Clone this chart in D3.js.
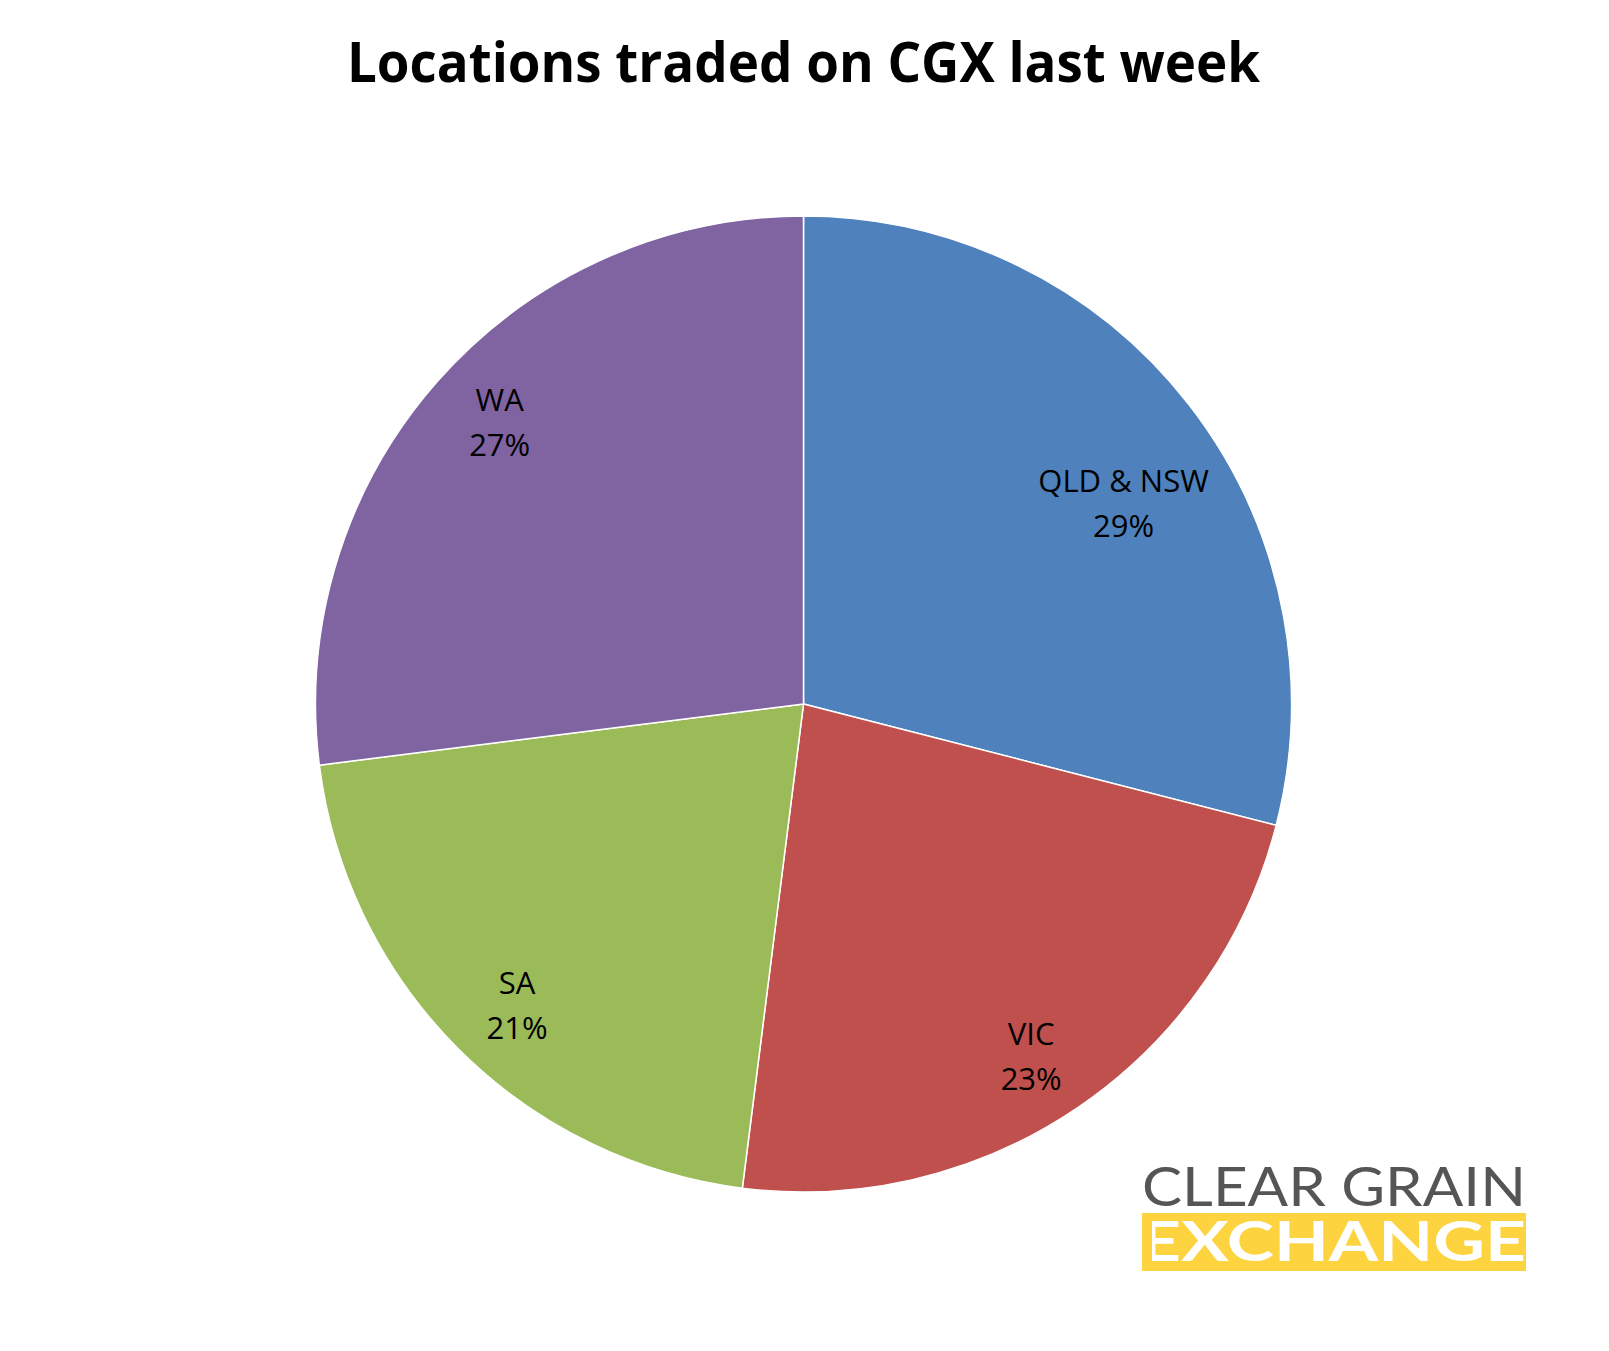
<!DOCTYPE html>
<html>
<head>
<meta charset="utf-8">
<script src="https://cdn.jsdelivr.net/npm/d3@7"></script>
<style>
  body { margin: 0; background: #fff; }
  svg { display: block; }
</style>
</head>
<body>
<div id="chart"></div>
<script>
var regions = ["QLD & NSW", "VIC", "SA", "WA"];
var shares = [29, 23, 21, 27];
var colours = ["#4F81BD", "#C0504D", "#9BBB59", "#8064A2"];
var chartTitle = "Locations traded on CGX last week";

var width = 1609, height = 1351;
var cx = 803.5, cy = 704, radius = 488;

var svg = d3.select("#chart").append("svg")
    .attr("width", width)
    .attr("height", height);

// Title
svg.append("text")
    .attr("x", cx)
    .attr("y", 82)
    .attr("text-anchor", "middle")
    .attr("font-family", "'Open Sans', 'Noto Sans', sans-serif")
    .attr("font-weight", "bold")
    .attr("font-size", 56)
    .attr("textLength", 913)
    .attr("lengthAdjust", "spacingAndGlyphs")
    .text(chartTitle);

var data = regions.map(function(r, i) {
  return {name: r, value: shares[i], colour: colours[i]};
});

var pie = d3.pie()
    .sort(null)
    .value(function(d) { return d.value; });

var arc = d3.arc()
    .innerRadius(0)
    .outerRadius(radius);

var g = svg.append("g")
    .attr("transform", "translate(" + cx + "," + cy + ")");

var arcs = pie(data);

g.selectAll("path.slice")
    .data(arcs)
  .enter().append("path")
    .attr("class", "slice")
    .attr("d", arc)
    .attr("fill", function(d) { return d.data.colour; })
    .attr("stroke", "#fff")
    .attr("stroke-width", 1.5);

// Labels: placed on the slice's mid angle (Excel-ish inside-end spot),
// then slid toward the horizontal axis until the box is inside the pie
var labelFont = "'Open Sans', 'Noto Sans', sans-serif";
var labelSize = 31, lineGap = 45;
var capH = labelSize * 0.714;
var halfSpan = (capH + lineGap) / 2;

var labels = g.selectAll("g.label")
    .data(arcs)
  .enter().append("g")
    .attr("class", "label");

labels.append("text")
    .attr("text-anchor", "middle")
    .attr("font-family", labelFont)
    .attr("font-size", labelSize)
    .attr("fill", "#000")
    .each(function(d) {
      var t = d3.select(this);
      t.append("tspan").attr("x", 0).attr("y", -halfSpan + capH).text(d.data.name);
      t.append("tspan").attr("x", 0).attr("y", halfSpan).text(d.data.value + "%");
    });

labels.each(function(d) {
  var bb = d3.select(this).select("text").node().getBBox();
  var mid = (d.startAngle + d.endAngle) / 2;
  var px = Math.sin(mid) * radius * 0.83,
      py = -Math.cos(mid) * radius * 0.873;
  var hw = bb.width / 2;
  function fits(x, y) {
    return [[x - hw, y - halfSpan], [x + hw, y - halfSpan], [x - hw, y + halfSpan], [x + hw, y + halfSpan]]
      .every(function(c) { return Math.hypot(c[0], c[1]) < radius - 20; });
  }
  var step = py < 0 ? 1 : -1;
  while (!fits(px, py) && Math.abs(py) > 1) py += step;
  d3.select(this).attr("transform", "translate(" + px + "," + py + ")");
});

// Logo
var logoX = 1142, logoW = 384;
var logo = svg.append("g");

logo.append("text")
    .attr("x", logoX)
    .attr("y", 1206)
    .attr("font-family", "Lato, 'Open Sans', sans-serif")
    .attr("font-size", 54)
    .attr("fill", "#555555")
    .attr("textLength", logoW)
    .attr("lengthAdjust", "spacingAndGlyphs")
    .text("CLEAR GRAIN");

logo.append("rect")
    .attr("x", logoX)
    .attr("y", 1213)
    .attr("width", logoW)
    .attr("height", 58)
    .attr("fill", "#FDD33F");

logo.append("text")
    .attr("x", logoX - 2)
    .attr("y", 1261)
    .attr("font-family", "Lato, 'Open Sans', sans-serif")
    .attr("font-weight", "bold")
    .attr("font-size", 56)
    .attr("fill", "#fff")
    .attr("textLength", logoW + 2)
    .attr("lengthAdjust", "spacingAndGlyphs")
    .text("EXCHANGE");

// the E's stem is hidden in the band
logo.append("rect")
    .attr("x", logoX)
    .attr("y", 1213)
    .attr("width", 10)
    .attr("height", 58)
    .attr("fill", "#FDD33F");
</script>
</body>
</html>
